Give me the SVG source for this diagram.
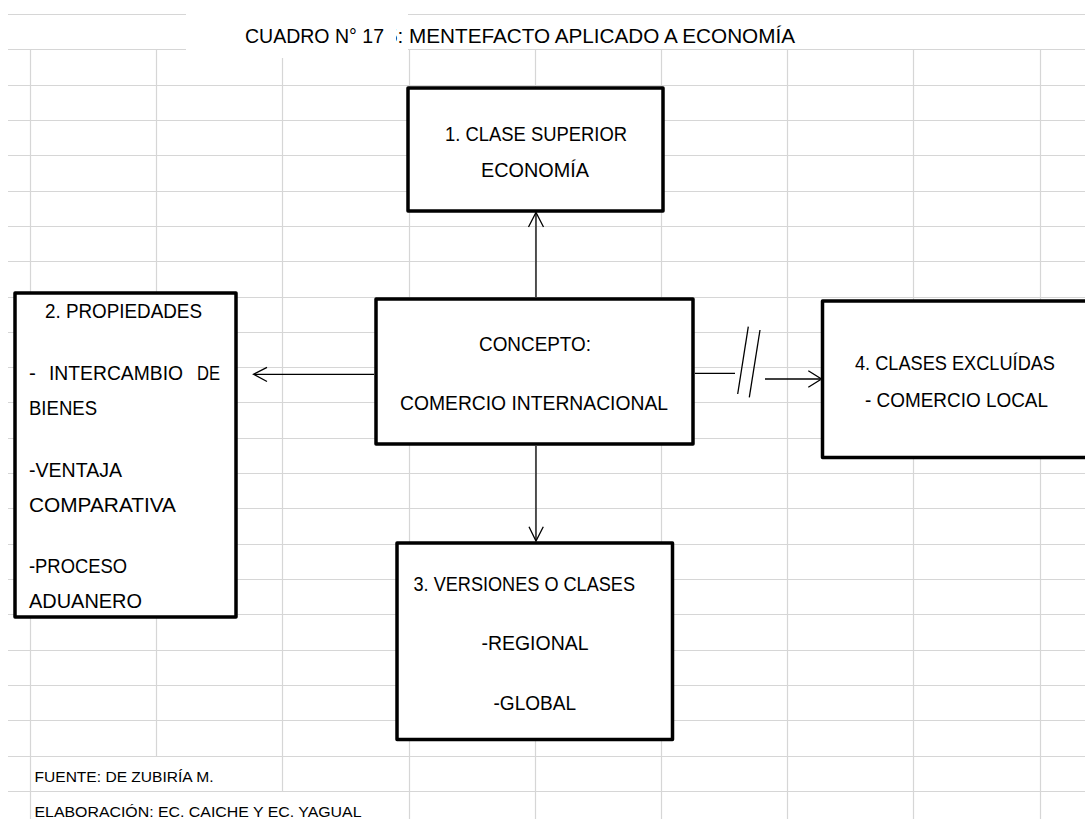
<svg xmlns="http://www.w3.org/2000/svg" width="1085" height="819" viewBox="0 0 1085 819">
<style>
.grid line{stroke:#d6d6d6;stroke-width:1.2}
.box{fill:#fff;stroke:#000;stroke-width:3.5;stroke-linejoin:round}
.t{font-family:"Liberation Sans",Arial,sans-serif;font-size:20.5px;fill:#000}
.ttl{font-family:"Liberation Sans",Arial,sans-serif;font-size:20.5px;fill:#000}
.ft{font-family:"Liberation Sans",Arial,sans-serif;font-size:15.5px;fill:#000}
#connectors line,#connectors polyline{stroke:#000;stroke-width:1.3;fill:none}
</style>
<rect width="1085" height="819" fill="#fff"/>
<g id="grid" class="grid">
<line x1="8" y1="14.5" x2="186" y2="14.5"/><line x1="408" y1="14.5" x2="1085" y2="14.5"/>
<line x1="8" y1="49.5" x2="186" y2="49.5"/><line x1="408" y1="49.5" x2="1085" y2="49.5"/>
<line x1="8" y1="85.5" x2="1085" y2="85.5"/>
<line x1="8" y1="120.5" x2="1085" y2="120.5"/>
<line x1="8" y1="155.5" x2="1085" y2="155.5"/>
<line x1="8" y1="191.5" x2="1085" y2="191.5"/>
<line x1="8" y1="226.5" x2="1085" y2="226.5"/>
<line x1="8" y1="261.5" x2="1085" y2="261.5"/>
<line x1="8" y1="297.5" x2="1085" y2="297.5"/>
<line x1="8" y1="332.5" x2="1085" y2="332.5"/>
<line x1="8" y1="367.5" x2="1085" y2="367.5"/>
<line x1="8" y1="402.5" x2="1085" y2="402.5"/>
<line x1="8" y1="438.5" x2="1085" y2="438.5"/>
<line x1="8" y1="473.5" x2="1085" y2="473.5"/>
<line x1="8" y1="508.5" x2="1085" y2="508.5"/>
<line x1="8" y1="544.5" x2="1085" y2="544.5"/>
<line x1="8" y1="579.5" x2="1085" y2="579.5"/>
<line x1="8" y1="614.5" x2="1085" y2="614.5"/>
<line x1="8" y1="650.5" x2="1085" y2="650.5"/>
<line x1="8" y1="685.5" x2="1085" y2="685.5"/>
<line x1="8" y1="720.5" x2="1085" y2="720.5"/>
<line x1="8" y1="756.5" x2="1085" y2="756.5"/>
<line x1="8" y1="791.5" x2="1085" y2="791.5"/>
<line x1="30.5" y1="49.5" x2="30.5" y2="819"/>
<line x1="156.5" y1="49.5" x2="156.5" y2="756.5"/>
<line x1="282.5" y1="49.5" x2="282.5" y2="791.5"/>
<line x1="409.5" y1="49.5" x2="409.5" y2="819"/>
<line x1="535.5" y1="49.5" x2="535.5" y2="819"/>
<line x1="661.5" y1="49.5" x2="661.5" y2="819"/>
<line x1="787.5" y1="49.5" x2="787.5" y2="819"/>
<line x1="913.5" y1="49.5" x2="913.5" y2="819"/>
<line x1="1040.5" y1="49.5" x2="1040.5" y2="819"/>
</g>
<g id="title">
<text class="ttl" x="386" y="42.5" textLength="409" lengthAdjust="spacingAndGlyphs">5: MENTEFACTO APLICADO A ECONOMÍA</text>
<rect x="186" y="0" width="210" height="58" fill="#fff"/>
<text class="ttl" x="245" y="42.5" textLength="139" lengthAdjust="spacingAndGlyphs">CUADRO N° 17</text>
</g>
<g id="node-superior">
<rect class="box" x="408" y="88" width="255" height="123"/>
<text class="t" x="445" y="141" textLength="182" lengthAdjust="spacingAndGlyphs">1. CLASE SUPERIOR</text>
<text class="t" x="481" y="177" textLength="108" lengthAdjust="spacingAndGlyphs">ECONOMÍA</text>
</g>
<g id="node-propiedades">
<rect class="box" x="15" y="293" width="221" height="324"/>
<text class="t" x="45" y="318" textLength="157" lengthAdjust="spacingAndGlyphs">2. PROPIEDADES</text>
<text class="t" y="380"><tspan x="29">-</tspan><tspan x="49" textLength="134" lengthAdjust="spacingAndGlyphs">INTERCAMBIO</tspan><tspan x="197" textLength="23" lengthAdjust="spacingAndGlyphs">DE</tspan></text>
<text class="t" x="29" y="415" textLength="68" lengthAdjust="spacingAndGlyphs">BIENES</text>
<text class="t" x="29" y="476.5" textLength="93" lengthAdjust="spacingAndGlyphs">-VENTAJA</text>
<text class="t" x="29" y="511.5" textLength="147" lengthAdjust="spacingAndGlyphs">COMPARATIVA</text>
<text class="t" x="29" y="573" textLength="98" lengthAdjust="spacingAndGlyphs">-PROCESO</text>
<text class="t" x="29" y="608" textLength="113" lengthAdjust="spacingAndGlyphs">ADUANERO</text>
</g>
<g id="node-concepto">
<rect class="box" x="376" y="299" width="317" height="145"/>
<text class="t" x="479" y="350.5" textLength="112" lengthAdjust="spacingAndGlyphs">CONCEPTO:</text>
<text class="t" x="400" y="410" textLength="268" lengthAdjust="spacingAndGlyphs">COMERCIO INTERNACIONAL</text>
</g>
<g id="node-excluidas">
<rect class="box" x="822.5" y="301" width="280" height="156.5"/>
<text class="t" x="855" y="370" textLength="200" lengthAdjust="spacingAndGlyphs">4. CLASES EXCLUÍDAS</text>
<text class="t" x="865" y="407" textLength="183" lengthAdjust="spacingAndGlyphs">- COMERCIO LOCAL</text>
</g>
<g id="node-versiones">
<rect class="box" x="397" y="543" width="275.5" height="196.5"/>
<text class="t" x="413.5" y="590.5" textLength="221.5" lengthAdjust="spacingAndGlyphs">3. VERSIONES O CLASES</text>
<text class="t" x="481.5" y="650" textLength="107" lengthAdjust="spacingAndGlyphs">-REGIONAL</text>
<text class="t" x="493.5" y="710" textLength="82.5" lengthAdjust="spacingAndGlyphs">-GLOBAL</text>
</g>
<g id="connectors">
<line x1="536" y1="297" x2="536" y2="213"/>
<polyline points="528.5,227 536,212.5 543.5,227"/>
<line x1="374" y1="374.3" x2="255" y2="374.3"/>
<polyline points="267,367.3 253.5,374.3 267,381.5"/>
<line x1="536" y1="446" x2="536" y2="540"/>
<polyline points="529,526.7 536,541 543.3,526.7"/>
<line x1="695" y1="373.3" x2="735" y2="373.3"/>
<line x1="737.7" y1="394" x2="748.3" y2="326.7"/>
<line x1="749.3" y1="397.3" x2="760" y2="330"/>
<line x1="765" y1="379" x2="820" y2="379"/>
<polyline points="808.3,370.7 821.5,379 808.3,387.3"/>
</g>
<g id="footer">
<text class="ft" x="34.5" y="782" textLength="179" lengthAdjust="spacingAndGlyphs">FUENTE: DE ZUBIRÍA M.</text>
<text class="ft" x="34.5" y="817.3" textLength="327" lengthAdjust="spacingAndGlyphs">ELABORACIÓN: EC. CAICHE Y EC. YAGUAL</text>
</g>
</svg>
